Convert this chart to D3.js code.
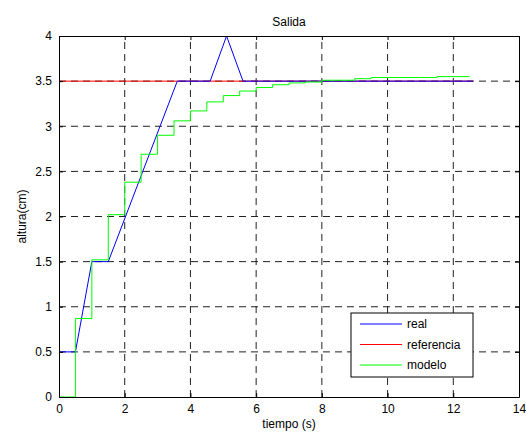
<!DOCTYPE html>
<html>
<head>
<meta charset="utf-8">
<script src="https://cdn.jsdelivr.net/npm/d3@7"></script>
<style>
body { margin: 0; background: #fff; }
svg { display: block; font-family: "Liberation Sans", Arial, sans-serif; }
</style>
</head>
<body>
<script>
// datos
var realT = [0, 0.5, 1.0, 1.5, 3.6, 4.6, 5.1, 5.6, 12.6];
var realY = [0.5, 0.5, 1.5, 1.5, 3.5, 3.5, 4.0, 3.5, 3.5];

var refT = [0, 12.6];
var refY = [3.5, 3.5];

var modeloT = [0, 0.5, 1.0, 1.5, 2.0, 2.5, 3.0, 3.5, 4.0, 4.5, 5.0, 5.5, 6.0, 6.5, 7.0, 7.5, 8.0, 8.5, 9.0, 9.5, 10.0, 10.5, 11.0, 11.5, 12.0, 12.5];
var modeloY = [0, 0.87, 1.52, 2.02, 2.38, 2.69, 2.9, 3.06, 3.17, 3.27, 3.34, 3.39, 3.43, 3.46, 3.48, 3.49, 3.51, 3.51, 3.527, 3.54, 3.54, 3.54, 3.54, 3.55, 3.55, 3.55];

var xTicks = [0, 2, 4, 6, 8, 10, 12, 14];
var yTicks = [0, 0.5, 1, 1.5, 2, 2.5, 3, 3.5, 4];

var width = 526, height = 432;
var margin = {top: 36, right: 7, bottom: 35, left: 59};
var fs = 12;

var svg = d3.select('body').append('svg')
	.attr('width', width).attr('height', height);

var x = d3.scaleLinear().domain([0, 14]).range([margin.left, width - margin.right]);
var y = d3.scaleLinear().domain([0, 4]).range([height - margin.bottom, margin.top]);

// rejilla
svg.append('g').selectAll('line').data(xTicks.slice(1, -1)).enter().append('line')
	.attr('x1', function (d) { return x(d); }).attr('x2', function (d) { return x(d); })
	.attr('y1', y(0)).attr('y2', y(4))
	.attr('stroke', '#222').attr('stroke-dasharray', '7,5');
svg.append('g').selectAll('line').data(yTicks.slice(1, -1)).enter().append('line')
	.attr('y1', function (d) { return y(d); }).attr('y2', function (d) { return y(d); })
	.attr('x1', x(0)).attr('x2', x(14))
	.attr('stroke', '#222').attr('stroke-dasharray', '7,5');

var line = d3.line()
	.x(function (d) { return x(d[0]); })
	.y(function (d) { return y(d[1]); });

function pts(t, v) { return t.map(function (d, i) { return [d, v[i]]; }); }

svg.append('path').attr('d', line(pts(refT, refY)))
	.attr('fill', 'none').attr('stroke', '#f00');
svg.append('path').attr('d', line(pts(realT, realY)))
	.attr('fill', 'none').attr('stroke', '#00f');
svg.append('path').attr('d', line.curve(d3.curveStepAfter)(pts(modeloT, modeloY)))
	.attr('fill', 'none').attr('stroke', '#0f0');
line.curve(d3.curveLinear);

// ejes (caja con ticks hacia dentro)
var fmt = d3.format('~g');
svg.append('g').attr('transform', 'translate(0,' + y(0) + ')')
	.call(d3.axisBottom(x).tickValues(xTicks).tickFormat(fmt).tickSizeInner(-4).tickSizeOuter(0).tickPadding(7));
svg.append('g').attr('transform', 'translate(0,' + y(4) + ')')
	.call(d3.axisTop(x).tickValues(xTicks).tickSizeInner(-4).tickSizeOuter(0).tickFormat(''));
svg.append('g').attr('transform', 'translate(' + x(0) + ',0)')
	.call(d3.axisLeft(y).tickValues(yTicks).tickFormat(fmt).tickSizeInner(-4).tickSizeOuter(0).tickPadding(7));
svg.append('g').attr('transform', 'translate(' + x(14) + ',0)')
	.call(d3.axisRight(y).tickValues(yTicks).tickSizeInner(-4).tickSizeOuter(0).tickFormat(''));

svg.selectAll('.domain').attr('stroke', '#000');
svg.selectAll('.tick line').attr('stroke', '#000');
svg.selectAll('.tick text').attr('font-size', fs).attr('font-family', '"Liberation Sans", Arial, sans-serif').attr('fill', '#000');

// textos
svg.append('text').attr('x', (x(0) + x(14)) / 2).attr('y', 26)
	.attr('text-anchor', 'middle').attr('font-size', fs).text('Salida');
svg.append('text').attr('x', (x(0) + x(14)) / 2).attr('y', 428)
	.attr('text-anchor', 'middle').attr('font-size', fs).text('tiempo (s)');
svg.append('text').attr('transform', 'translate(26,' + (y(0) + y(4)) / 2 + ') rotate(-90)')
	.attr('text-anchor', 'middle').attr('font-size', fs).text('altura(cm)');

// leyenda
var legendNames = ['real', 'referencia', 'modelo'];
var legendColors = ['#00f', '#f00', '#0f0'];
var lg = svg.append('g').attr('transform', 'translate(351,313)');
lg.append('rect').attr('width', 122).attr('height', 64)
	.attr('fill', '#fff').attr('stroke', '#000');
var items = lg.selectAll('g').data(legendNames).enter().append('g')
	.attr('transform', function (d, i) { return 'translate(0,' + (11 + i * 20.5) + ')'; });
items.append('line').attr('x1', 9).attr('x2', 51)
	.attr('stroke', function (d, i) { return legendColors[i]; });
items.append('text').attr('x', 56).attr('dy', 4).attr('font-size', fs).text(function (d) { return d; });
</script>
</body>
</html>
